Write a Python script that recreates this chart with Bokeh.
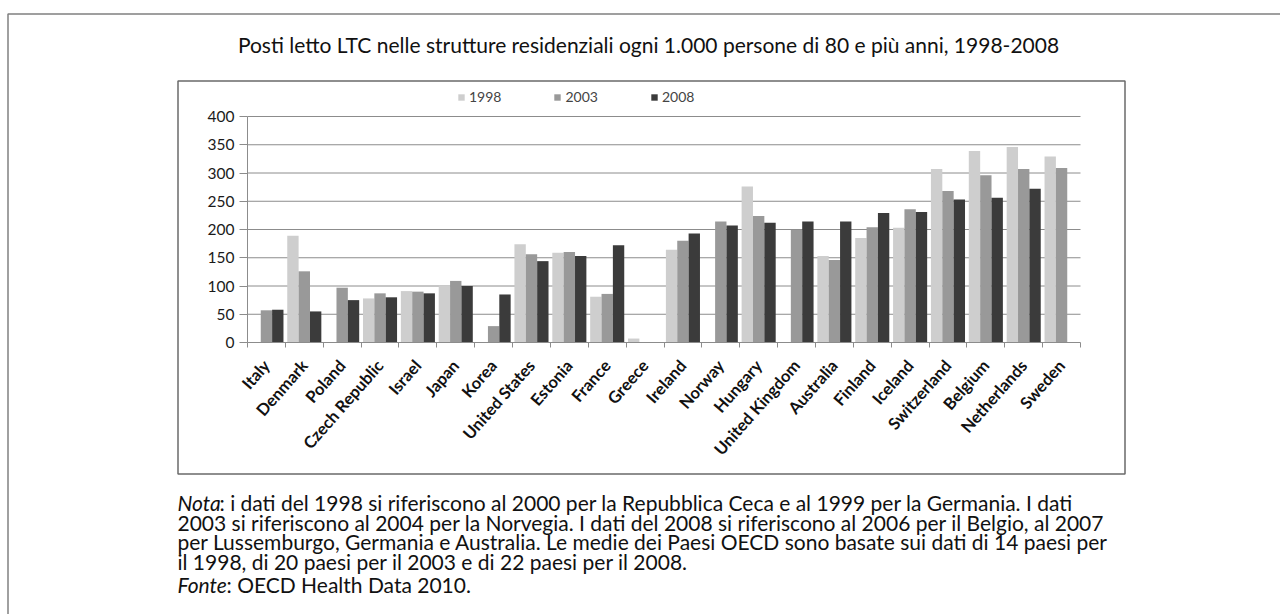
import math
import numpy as np
from bokeh.plotting import figure
from bokeh.models import (Range1d, LinearAxis, FixedTicker, Legend, LegendItem, ColumnDataSource)
from bokeh.core.properties import value
from bokeh.transform import dodge
from bokeh.embed import file_html
from bokeh.resources import INLINE

NaN = float("nan")

title_text = "Posti letto LTC nelle strutture residenziali ogni 1.000 persone di 80 e più anni, 1998-2008"

countries = ["Italy", "Denmark", "Poland", "Czech Republic", "Israel", "Japan", "Korea",
             "United States", "Estonia", "France", "Greece", "Ireland", "Norway", "Hungary",
             "United Kingdom", "Australia", "Finland", "Iceland", "Switzerland", "Belgium",
             "Netherlands", "Sweden"]
years = ["1998", "2003", "2008"]
v1998 = [NaN, 189, NaN, 78, 91, 101, NaN, 174, 159, 81, 7, 164, NaN, 276, NaN, 153, 185, 203, 307, 339, 346, 329]
v2003 = [57, 126, 97, 87, 90, 109, 29, 156, 160, 86, NaN, 180, 214, 224, 199, 146, 204, 236, 268, 296, 307, 309]
v2008 = [58, 55, 75, 80, 87, 100, 85, 144, 153, 172, NaN, 193, 207, 212, 214, 214, 229, 231, 253, 256, 272, NaN]
y_ticks = [0, 50, 100, 150, 200, 250, 300, 350, 400]

note_lead = ["Nota", "", "", "", "Fonte"]
note_lines = [
    ": i dati del 1998 si riferiscono al 2000 per la Repubblica Ceca e al 1999 per la Germania. I dati",
    "2003 si riferiscono al 2004 per la Norvegia. I dati del 2008 si riferiscono al 2006 per il Belgio, al 2007",
    "per Lussemburgo, Germania e Australia. Le medie dei Paesi OECD sono basate sui dati di 14 paesi per",
    "il 1998, di 20 paesi per il 2003 e di 22 paesi per il 2008.",
    ": OECD Health Data 2010.",
]

colors = ["#cecece", "#999999", "#3b3b3b"]

# ---- layout (page pixels) ----
W, H = 1280, 614
PL, PR, PT, PB = 247, 1080, 116, 342          # plot area
n = len(countries)
kx = (PR - PL) / n                               # px per category
ky = (PB - PT) / y_ticks[-1]                     # px per unit

xpos = [i + 0.5 for i in range(n)]
src = ColumnDataSource(dict(x=xpos, country=countries,
                            y1998=np.array(v1998, dtype=float),
                            y2003=np.array(v2003, dtype=float),
                            y2008=np.array(v2008, dtype=float)))

p = figure(width=W, height=H, x_range=Range1d(0, W), y_range=Range1d(H, 0),
           x_axis_location=None, y_axis_location=None, output_backend="svg",
           toolbar_location=None, min_border=0)
p.outline_line_color = None
p.background_fill_color = "white"
p.border_fill_color = "white"
p.grid.visible = False

p.extra_x_ranges = {"cx": Range1d((0 - PL) / kx, (W - PL) / kx)}
p.extra_y_ranges = {"vy": Range1d((PB - H) / ky, PB / ky)}

# boxes
p.quad(left=7.5, right=W + 20, top=13.5, bottom=H + 20, fill_color=None,
       line_color="#808080", line_width=1.5)
p.quad(left=177.5, right=1124.5, top=80.5, bottom=473.5, fill_color=None,
       line_color="#6a6a6a", line_width=1.5)

# gridlines
p.segment(x0=0, x1=n, y0=y_ticks[1:], y1=y_ticks[1:], x_range_name="cx", y_range_name="vy",
          line_color="#8c8c8c", line_width=1)

rs = []
for yr, off, col in zip(years, [-0.3, 0.0, 0.3], colors):
    r = p.vbar(x=dodge("x", off), top="y" + yr, bottom=0, width=0.3, source=src,
               x_range_name="cx", y_range_name="vy", fill_color=col, line_color=None)
    rs.append(r)

# y axis
yax = LinearAxis(x_range_name="cx", y_range_name="vy", fixed_location=0, bounds=(0, y_ticks[-1]),
                 ticker=FixedTicker(ticks=y_ticks), axis_line_color="#8c8c8c",
                 major_tick_line_color="#8c8c8c", major_tick_out=8, major_tick_in=0,
                 minor_tick_line_color=None, major_label_standoff=5,
                 major_label_text_font="Lato", major_label_text_font_size="15.5px",
                 major_label_text_color="#1a1a1a")
p.add_layout(yax, "left")

# x axis: tick marks between categories
tax = LinearAxis(x_range_name="cx", y_range_name="vy", fixed_location=0, bounds=(0, n),
                 ticker=FixedTicker(ticks=list(range(n + 1))), axis_line_color="#8c8c8c",
                 major_tick_line_color="#8c8c8c", major_tick_out=5, major_tick_in=0,
                 minor_tick_line_color=None, major_label_text_color=None)
p.add_layout(tax, "below")

# x axis: category labels
lax = LinearAxis(x_range_name="cx", y_range_name="vy", fixed_location=0, bounds=(0, n),
                 ticker=FixedTicker(ticks=xpos),
                 major_label_overrides={x: c for x, c in zip(xpos, countries)},
                 major_label_orientation=0.85, axis_line_color=None,
                 major_tick_line_color=None, major_tick_out=0, major_tick_in=0,
                 minor_tick_line_color=None, major_label_standoff=20,
                 major_label_text_font="Lato", major_label_text_font_style="bold",
                 major_label_text_font_size="16.5px", major_label_text_color="#111111")
p.add_layout(lax, "below")

# legend
legend = Legend(items=[LegendItem(label=y, renderers=[r]) for y, r in zip(years, rs)],
                orientation="horizontal", location=(457, H - 105),
                glyph_width=8, glyph_height=8, label_text_font="Lato", label_text_font_size="14px",
                label_height=14, label_standoff=4, spacing=52, padding=0, margin=0,
                border_line_color=None, background_fill_alpha=0)
p.add_layout(legend)

# title
p.text(x=[648], y=[44], text=[title_text], text_align="center", text_baseline="middle",
       text_font=value("Lato"), text_font_size="21px", text_color="#111111")

# notes
note_y = [502, 521.5, 541, 560.5, 584]
lead_w = {"Nota": 42, "Fonte": 49}
for lead, line, yy in zip(note_lead, note_lines, note_y):
    x0 = 177
    if lead:
        p.text(x=[x0], y=[yy], text=[lead], text_align="left", text_baseline="middle",
               text_font=value("Lato"), text_font_style="italic", text_font_size="21px",
               text_color="#111111")
        x0 += lead_w[lead]
    p.text(x=[x0], y=[yy], text=[line], text_align="left", text_baseline="middle",
           text_font=value("Lato"), text_font_size="21px", text_color="#111111")

open("out.html", "w").write(file_html(p, INLINE))
